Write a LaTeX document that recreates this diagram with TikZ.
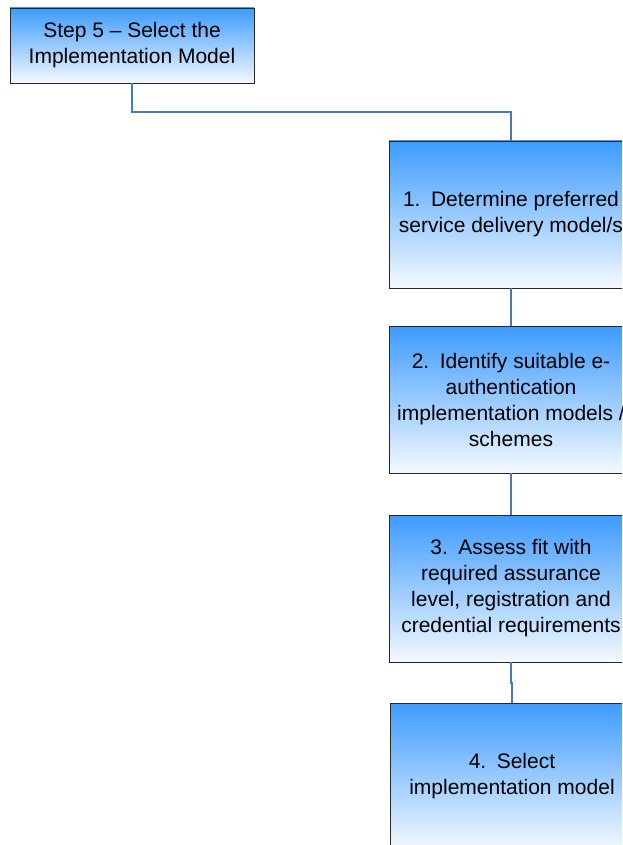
\documentclass[tikz,border=0pt]{standalone}
\usepackage{fontspec}
\setmainfont{Liberation Sans}
\definecolor{boxtop}{RGB}{61,155,255}
\definecolor{boxbot}{RGB}{244,249,255}
\definecolor{linkc}{RGB}{74,118,192}
\definecolor{edgec}{RGB}{40,40,40}
\tikzset{
  stepbox/.style={draw=edgec, line width=0.9pt, top color=boxtop, bottom color=boxbot,
    minimum width=244pt, inner sep=0pt, align=center,
    font=\fontsize{21}{26}\selectfont},
  link/.style={draw=linkc, line width=1.6pt}
}
\begin{document}
\begin{tikzpicture}[x=1pt,y=-1pt]
\clip (0,0) rectangle (622,845);
\useasboundingbox (0,0) rectangle (622,845);
\node[stepbox, minimum height=75pt] (top) at (132,45.5) {Step 5 -- Select the\\Implementation Model};
\node[stepbox, minimum height=147pt] (b1) at (511,214.5) {1.\hspace{0.5em}Determine preferred\\service delivery model/s};
\node[stepbox, minimum height=147pt] (b2) at (511,399.5) {2.\hspace{0.5em}Identify suitable e-\\authentication\\implementation models /\\schemes};
\node[stepbox, minimum height=147pt] (b3) at (511,588.5) {3.\hspace{0.5em}Assess fit with\\required assurance\\level, registration and\\credential requirements};
\node[stepbox, minimum height=147pt] (b4) at (512,776.5) {4.\hspace{0.5em}Select\\implementation model};
\coordinate (j1) at (132,112);
\coordinate (j3) at (511,683);
\draw[link] (top.south) -- (j1) -| (b1.north);
\draw[link] (b1.south) -- (b2.north);
\draw[link] (b2.south) -- (b3.north);
\draw[link] (b3.south) -- (j3) -| (b4.north);
\end{tikzpicture}
\end{document}
